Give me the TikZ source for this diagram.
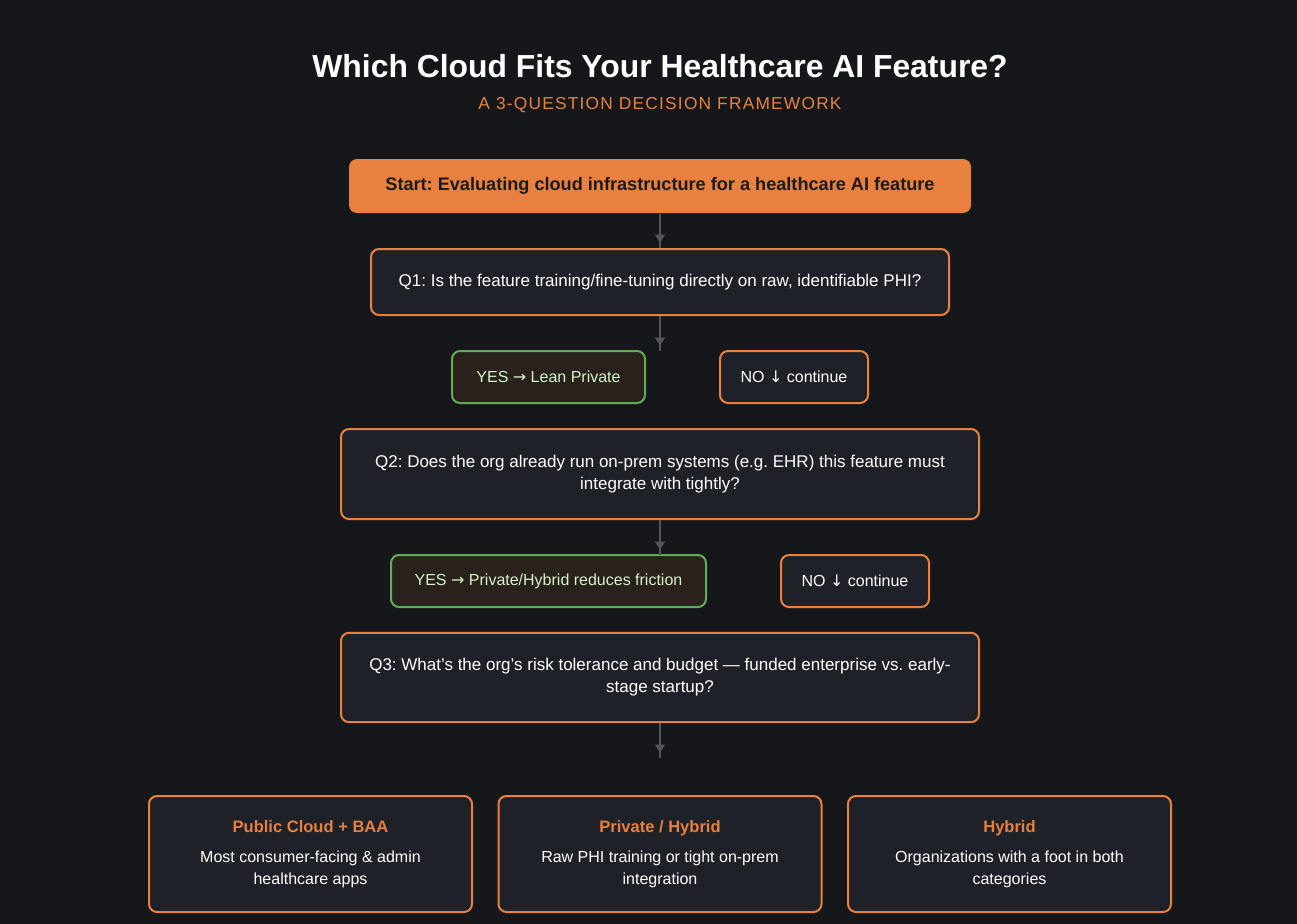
\documentclass[tikz,border=0pt]{standalone}
\usepackage{fontspec}
\setmainfont{Liberation Sans}
\newfontfamily\arrowfont{DejaVu Sans}
\usetikzlibrary{arrows.meta,decorations.markings}
\definecolor{bgdark}{HTML}{16171B}
\definecolor{boxfill}{HTML}{1F2129}
\definecolor{hcorange}{HTML}{E8803F}
\definecolor{yesgreen}{HTML}{62AC58}
\definecolor{yesfill}{HTML}{29211C}
\definecolor{yestext}{HTML}{D6F3C8}
\definecolor{linkgray}{HTML}{52555C}
\definecolor{darktext}{HTML}{1B1B1B}
\frenchspacing
\begin{document}
\begin{tikzpicture}[x=0.75pt,y=-0.75pt,
    qbox/.style={draw=hcorange,line width=1.5pt,fill=boxfill,rounded corners=6pt,
        text=white,align=center,inner sep=0pt,font=\fontsize{12.75}{16.5}\selectfont},
    yesbox/.style={qbox,draw=yesgreen,fill=yesfill,text=yestext,minimum height=39pt,font=\fontsize{12}{15}\selectfont},
    nobox/.style={qbox,minimum width=111pt,minimum height=39pt,font=\fontsize{12}{15}\selectfont},
    outbox/.style={qbox,minimum width=242.25pt,minimum height=87pt,font=\fontsize{12}{16.5}\selectfont},
    flow/.style={draw=linkgray,line width=1.5pt,postaction={decorate},
        decoration={markings,mark=at position -4pt with {\arrow[linkgray]{Triangle[width=7.5pt,length=6pt]}}}}]
    \fill[bgdark](0,0)rectangle(1297,924);
    % title
    \node[text=white,font=\fontsize{23.9}{28}\bfseries](title)at(660,66){Which Cloud Fits Your Healthcare AI Feature?};
    \node[text=hcorange,font=\addfontfeatures{LetterSpace=7}\fontsize{13}{15}\selectfont](subtitle)at(660,105){A 3-QUESTION DECISION FRAMEWORK};
    % questions
    \node[qbox,fill=hcorange,draw=none,text=darktext,minimum width=466.5pt,minimum height=40.5pt,
        font=\fontsize{13.6}{15}\bfseries](start)at(660,186){Start: Evaluating cloud infrastructure for a healthcare AI feature};
    \node[qbox,minimum width=433.5pt,minimum height=49.5pt](q1)at(660,282){Q1: Is the feature training/fine-tuning directly on raw, identifiable PHI?};
    \node[yesbox,minimum width=144.75pt](yes1)at(548.5,377){YES {\arrowfont →} Lean Private};
    \node[nobox](no1)at(794,377){NO {\arrowfont ↓} continue};
    \node[qbox,minimum width=478.5pt,minimum height=67.5pt](q2)at(660,474){Q2: Does the org already run on-prem systems (e.g. EHR) this feature must\\integrate with tightly?};
    \node[yesbox,minimum width=236.25pt](yes2)at(548.5,581){YES {\arrowfont →} Private/Hybrid reduces friction};
    \node[nobox](no2)at(855,581){NO {\arrowfont ↓} continue};
    \node[qbox,minimum width=478.5pt,minimum height=67pt](q3)at(660,677.5){Q3: What's the org's risk tolerance and budget — funded enterprise vs. early-\\stage startup?};
    % connectors
    \coordinate(end1)at(660,351);
    \coordinate(end2)at(660,555);
    \coordinate(end3)at(660,758);
    \draw[flow](start)--(q1);
    \draw[flow](q1)--(end1);
    \draw[flow](q2)--(end2);
    \draw[flow](q3)--(end3);
    % outcomes
    \foreach \x/\name/\head/\textA/\textB in {310.5/pub/Public Cloud + BAA/Most consumer-facing \& admin/healthcare apps,
        660/priv/{Private / Hybrid}/Raw PHI training or tight on-prem/integration,
        1009.5/hyb/Hybrid/Organizations with a foot in both/categories}{
        \node[outbox](\name)at(\x,854){{\color{hcorange}\bfseries\fontsize{12.4}{15}\selectfont\head}\\[6pt]\textA\\\textB};
    }
\end{tikzpicture}
\end{document}
